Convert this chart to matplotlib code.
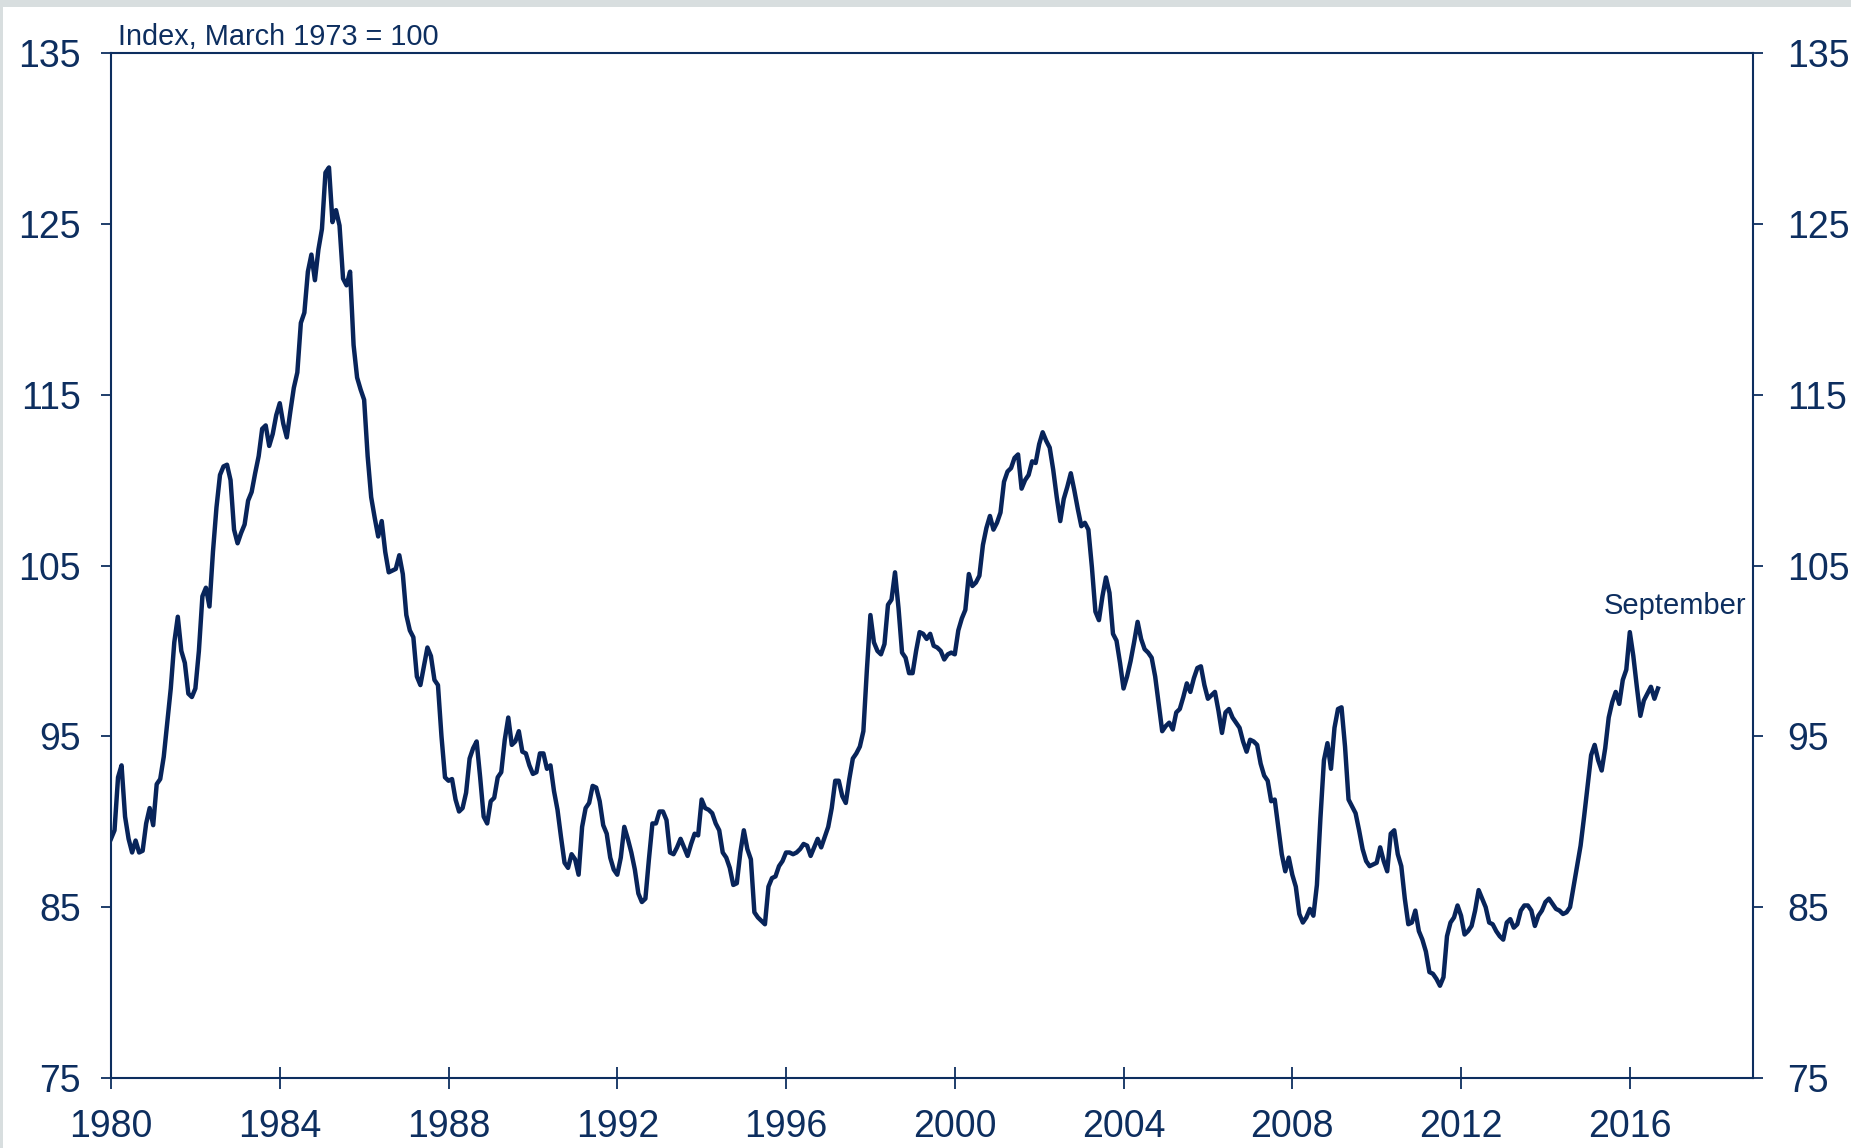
import numpy as np
import matplotlib
matplotlib.use('Agg')
import matplotlib.pyplot as plt
from matplotlib.patches import Rectangle

# monthly index values, Jan 1980 - Sep 2016
dollar_1980s = [
	89.0, 89.5, 92.6, 93.3, 90.3, 89.0, 88.2, 88.9, 88.2, 88.3, 89.9, 90.8,  # 1980
	89.8, 92.2, 92.5, 93.8, 95.8, 97.8, 100.5, 102.0, 100.0, 99.3, 97.5, 97.3,  # 1981
	97.8, 100.0, 103.2, 103.7, 102.6, 105.8, 108.4, 110.3, 110.8, 110.9, 110.0, 107.1,  # 1982
	106.3, 106.9, 107.4, 108.8, 109.3, 110.4, 111.4, 113.0, 113.2, 112.0, 112.7, 113.8,  # 1983
	114.5, 113.3, 112.5, 114.0, 115.4, 116.3, 119.2, 119.8, 122.2, 123.2, 121.7, 123.5,  # 1984
	124.7, 128.0, 128.3, 125.1, 125.8, 124.9, 121.8, 121.4, 122.2, 117.9, 116.0, 115.3,  # 1985
	114.7, 111.4, 109.0, 107.8, 106.7, 107.6, 105.8, 104.6, 104.7, 104.8, 105.6, 104.5,  # 1986
	102.1, 101.2, 100.8, 98.5, 98.0, 99.1, 100.2, 99.7, 98.3, 98.0, 95.0, 92.6,  # 1987
	92.4, 92.5, 91.3, 90.6, 90.8, 91.7, 93.7, 94.3, 94.7, 92.6, 90.3, 89.9,  # 1988
	91.2, 91.4, 92.6, 92.9, 94.8, 96.1, 94.5, 94.7, 95.3, 94.1, 94.0, 93.3,  # 1989
]
dollar_1990s = [
	92.8, 92.9, 94.0, 94.0, 93.1, 93.3, 91.8, 90.7, 89.1, 87.6, 87.3, 88.1,  # 1990
	87.8, 86.9, 89.7, 90.8, 91.1, 92.1, 92.0, 91.2, 89.8, 89.3, 87.9, 87.2,  # 1991
	86.9, 87.9, 89.7, 89.0, 88.2, 87.2, 85.8, 85.3, 85.5, 87.8, 89.9, 89.9,  # 1992
	90.6, 90.6, 90.1, 88.2, 88.1, 88.5, 89.0, 88.5, 88.0, 88.7, 89.3, 89.2,  # 1993
	91.3, 90.8, 90.7, 90.5, 89.9, 89.5, 88.2, 87.9, 87.3, 86.3, 86.4, 88.2,  # 1994
	89.5, 88.4, 87.8, 84.7, 84.4, 84.2, 84.0, 86.2, 86.7, 86.8, 87.4, 87.7,  # 1995
	88.2, 88.2, 88.1, 88.2, 88.4, 88.7, 88.6, 88.0, 88.5, 89.0, 88.5, 89.1,  # 1996
	89.7, 90.8, 92.4, 92.4, 91.5, 91.1, 92.5, 93.7, 94.0, 94.4, 95.3, 98.9,  # 1997
	102.1, 100.5, 100.0, 99.8, 100.4, 102.7, 103.0, 104.6, 102.5, 99.9, 99.6, 98.7,  # 1998
	98.7, 100.0, 101.1, 101.0, 100.7, 101.0, 100.3, 100.2, 100.0, 99.5, 99.8, 99.9,  # 1999
]
dollar_2000s = [
	99.8, 101.2, 101.9, 102.4, 104.5, 103.8, 104.0, 104.4, 106.2, 107.2, 107.9, 107.1,  # 2000
	107.5, 108.1, 109.9, 110.5, 110.7, 111.3, 111.5, 109.5, 110.0, 110.3, 111.1, 111.0,  # 2001
	112.1, 112.8, 112.3, 111.9, 110.6, 109.0, 107.6, 108.9, 109.6, 110.4, 109.4, 108.3,  # 2002
	107.3, 107.5, 107.1, 104.9, 102.3, 101.8, 103.2, 104.3, 103.4, 101.0, 100.6, 99.3,  # 2003
	97.8, 98.5, 99.4, 100.5, 101.7, 100.7, 100.1, 99.9, 99.6, 98.5, 96.9, 95.3,  # 2004
	95.6, 95.8, 95.4, 96.4, 96.6, 97.3, 98.1, 97.6, 98.4, 99.0, 99.1, 98.0,  # 2005
	97.2, 97.4, 97.6, 96.5, 95.2, 96.4, 96.6, 96.1, 95.8, 95.5, 94.7, 94.1,  # 2006
	94.8, 94.7, 94.5, 93.4, 92.7, 92.4, 91.2, 91.3, 89.7, 88.1, 87.1, 87.9,  # 2007
	86.9, 86.2, 84.6, 84.1, 84.4, 84.9, 84.5, 86.3, 90.2, 93.6, 94.6, 93.1,  # 2008
	95.5, 96.6, 96.7, 94.4, 91.3, 90.9, 90.5, 89.5, 88.4, 87.7, 87.4, 87.5,  # 2009
]
dollar_2010s = [
	87.6, 88.5, 87.7, 87.1, 89.3, 89.5, 88.1, 87.4, 85.5, 84.0, 84.1, 84.8,  # 2010
	83.6, 83.1, 82.4, 81.2, 81.1, 80.8, 80.4, 80.9, 83.3, 84.1, 84.4, 85.1,  # 2011
	84.5, 83.4, 83.6, 83.9, 84.8, 86.0, 85.5, 85.0, 84.1, 84.0, 83.6, 83.3,  # 2012
	83.1, 84.1, 84.3, 83.8, 84.0, 84.8, 85.1, 85.1, 84.8, 83.9, 84.5, 84.8,  # 2013
	85.3, 85.5, 85.2, 84.9, 84.8, 84.6, 84.7, 85.0, 86.2, 87.4, 88.6, 90.3,  # 2014
	92.1, 93.9, 94.5, 93.6, 93.0, 94.3, 96.1, 97.0, 97.6, 96.9, 98.3, 98.9,  # 2015
	101.1, 99.7, 97.9, 96.2, 97.1, 97.5, 97.9, 97.2, 97.8,  # 2016 (to September)
]
start_year = 1980
year_ticks = list(range(1980, 2017, 4))
value_ticks = [75, 85, 95, 105, 115, 125, 135]

navy = '#0d2e5f'
line_col = '#08245a'
plt.rcParams['font.family'] = ['Liberation Sans', 'DejaVu Sans']

values = np.array(dollar_1980s + dollar_1990s + dollar_2000s + dollar_2010s)
years = start_year + np.arange(len(values)) / 12.0

W, H = 1851, 1148
fig = plt.figure(figsize=(W / 100, H / 100), dpi=100, facecolor='#d8dedf')
fig.patches.append(Rectangle((3 / W, 0), 1, (H - 7) / H, transform=fig.transFigure,
	facecolor='white', edgecolor='none', zorder=-10))

ax = fig.add_axes([111 / W, 70 / H, (1753 - 111) / W, (1078 - 53) / H])
ax.plot(years, values, color=line_col, lw=3.2, solid_joinstyle='round')
ax.set_xlim(1980, 2018.92)
ax.set_ylim(75, 135)
ax.set_xticks(year_ticks)
ax.set_yticks(value_ticks)

for s in ax.spines.values():
	s.set_color(navy)
	s.set_linewidth(1.5)
ax.tick_params(axis='x', direction='inout', length=16, width=1.3, color=navy,
	labelcolor=navy, labelsize=27, pad=14)
ax.tick_params(axis='y', direction='out', length=7.5, width=1.3, color=navy,
	labelcolor=navy, labelsize=27, pad=14)

ax2 = ax.twinx()
ax2.set_ylim(75, 135)
ax2.set_yticks(value_ticks)
for s in ax2.spines.values():
	s.set_visible(False)
ax2.tick_params(axis='y', direction='out', length=7.5, width=1.3, color=navy,
	labelcolor=navy, labelsize=27, pad=17)

ax.text(0.004, 1.008, 'Index, March 1973 = 100', transform=ax.transAxes,
	fontsize=20.8, color=navy, ha='left', va='baseline')
ax.text(2018.76, 102.15, 'September', fontsize=21, color=navy, ha='right', va='baseline')

fig.savefig('out.png', dpi=100, facecolor=fig.get_facecolor())
